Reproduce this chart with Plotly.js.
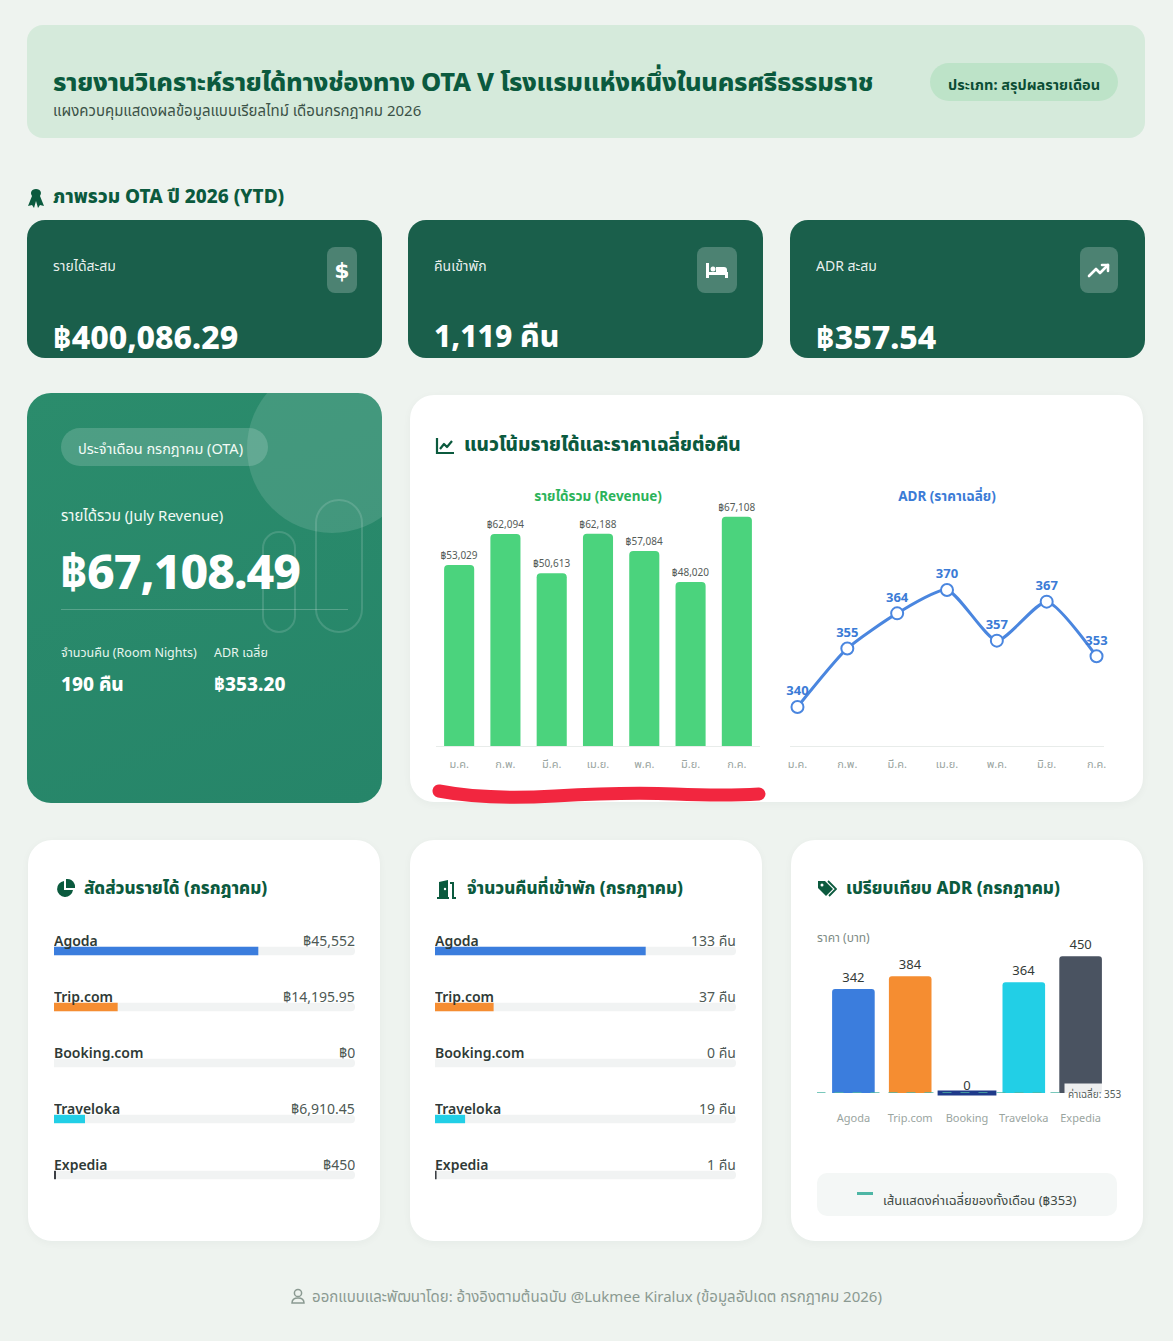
<!DOCTYPE html>
<html lang="th">
<head>
<meta charset="utf-8">
<title>รายงานวิเคราะห์รายได้ OTA</title>
<script src="https://cdn.plot.ly/plotly-3.0.1.min.js"></script>
<style>
  * { box-sizing: border-box; }
  body {
    margin: 0;
    width: 1173px;
    height: 1341px;
    background: #eef3ef;
    font-family: "Noto Sans", "Noto Sans Thai", sans-serif;
    position: relative;
    overflow: hidden;
    color: #0b5a3e;
  }
  .abs { position: absolute; }
  .card { position: absolute; border-radius: 22px; overflow: hidden; }
  .white { background: #ffffff; box-shadow: 0 2px 8px rgba(20, 60, 40, 0.04); }
  .kpi { background: #1a5f4b; top: 220px; width: 355px; height: 138px; border-radius: 18px; }
  .kpi .lbl { position: absolute; left: 26px; top: 36px; font-size: 14px; color: rgba(255,255,255,0.92); }
  .kpi .val { position: absolute; left: 26px; top: 95px; font-size: 32px; font-weight: 800; color: #fff; }
  .kpi .ico { position: absolute; top: 27px; height: 46px; border-radius: 8px; background: rgba(255,255,255,0.22);
              display: flex; align-items: center; justify-content: center; }
  .ctitle { position: absolute; font-size: 17px; font-weight: 800; color: #0b5a3e; display: flex; align-items: center; gap: 9px; }
  .plot { position: absolute; }
</style>
</head>
<body>

<!-- header -->
<div class="card" style="left:27px; top:25px; width:1118px; height:113px; background:#d5eadb; border-radius:16px;">
  <div class="abs" style="left:26px; top:39px; font-size:25.5px; font-weight:800; color:#0b5a3e; letter-spacing:-0.3px;">รายงานวิเคราะห์รายได้ทางช่องทาง OTA V โรงแรมแห่งหนึ่งในนครศรีธรรมราช</div>
  <div class="abs" style="left:26px; top:75px; font-size:15px; color:#3b5247;">แผงควบคุมแสดงผลข้อมูลแบบเรียลไทม์ เดือนกรกฎาคม 2026</div>
  <div class="abs" style="left:903px; top:38px; width:188px; height:38px; border-radius:19px; background:#bde3c8; font-size:14.5px; font-weight:700; color:#0b4d35; display:flex; align-items:center; justify-content:center; padding-top:6px;">ประเภท: สรุปผลรายเดือน</div>
</div>

<!-- section title -->
<div class="ctitle" style="left:27px; top:183px; font-size:19px; gap:8px;">
  <svg width="18" height="22" viewBox="0 0 18 22"><path d="M9 2 C4 2 3 6 5 9 L1 19 L5 18 L7 21 L9 14 L11 21 L13 18 L17 19 L13 9 C15 6 14 2 9 2 Z" fill="#0b5a3e"/></svg>
  <span>ภาพรวม OTA ปี 2026 (YTD)</span>
</div>

<!-- KPI cards -->
<div class="card kpi" style="left:27px;">
  <div class="lbl">รายได้สะสม</div>
  <div class="val" id="kpiRevenue"></div>
  <div class="ico" style="left:300px; width:30px;">
    <svg width="14" height="24" viewBox="0 0 14 24"><text x="7" y="20" text-anchor="middle" font-size="22" font-weight="800" fill="#fff" font-family="DejaVu Sans">$</text></svg>
  </div>
</div>
<div class="card kpi" style="left:408px;">
  <div class="lbl">คืนเข้าพัก</div>
  <div class="val" id="kpiNights" style="font-size:30px;"></div>
  <div class="ico" style="left:289px; width:40px;">
    <svg width="24" height="18" viewBox="0 0 24 18"><rect x="1" y="2" width="3" height="15" fill="#fff"/><rect x="1" y="11" width="22" height="3" fill="#fff"/><rect x="20" y="11" width="3" height="6" fill="#fff"/><circle cx="8" cy="8" r="2.5" fill="#fff"/><path d="M11 6 H19 Q22 6 22 9 V11 H11 Z" fill="#fff"/></svg>
  </div>
</div>
<div class="card kpi" style="left:790px;">
  <div class="lbl">ADR สะสม</div>
  <div class="val" id="kpiAdr"></div>
  <div class="ico" style="left:290px; width:38px;">
    <svg width="24" height="16" viewBox="0 0 24 16"><path d="M2 14 L9 7 L13 11 L21 3" stroke="#fff" stroke-width="2.6" fill="none" stroke-linecap="round" stroke-linejoin="round"/><path d="M15 3 H21 V9" stroke="#fff" stroke-width="2.6" fill="none" stroke-linecap="round" stroke-linejoin="round"/></svg>
  </div>
</div>

<!-- July card -->
<div class="card" style="left:27px; top:393px; width:355px; height:410px; border-radius:24px; background:linear-gradient(160deg,#2b8c6c 0%,#268569 100%);">
  <div class="abs" style="left:220px; top:-30px; width:170px; height:170px; border-radius:50%; background:rgba(255,255,255,0.12);"></div>
  <div class="abs" style="left:235px; top:138px; width:34px; height:102px; border-radius:17px; border:2px solid rgba(255,255,255,0.14);"></div>
  <div class="abs" style="left:288px; top:106px; width:48px; height:134px; border-radius:24px; border:2px solid rgba(255,255,255,0.14);"></div>
  <div class="abs" style="left:34px; top:35px; width:207px; height:38px; border-radius:19px; background:rgba(255,255,255,0.17); color:#f3fbf6; font-size:14.5px; display:flex; align-items:center; padding-left:17px; padding-top:4px;">ประจำเดือน กรกฎาคม (OTA)</div>
  <div class="abs" style="left:34px; top:112px; font-size:15px; color:#f3fbf6;">รายได้รวม (July Revenue)</div>
  <div class="abs" id="julyRevenue" style="left:33px; top:145px; font-size:48px; font-weight:800; color:#fff; letter-spacing:-1px;"></div>
  <div class="abs" style="left:34px; top:216px; width:287px; height:1px; background:rgba(255,255,255,0.22);"></div>
  <div class="abs" style="left:34px; top:251px; font-size:12.5px; color:#e7f5ee;">จำนวนคืน (Room Nights)</div>
  <div class="abs" style="left:187px; top:251px; font-size:12.5px; color:#e7f5ee;">ADR เฉลี่ย</div>
  <div class="abs" id="julyNights" style="left:34px; top:278px; font-size:19px; font-weight:800; color:#fff;"></div>
  <div class="abs" id="julyAdr" style="left:187px; top:278px; font-size:19px; font-weight:800; color:#fff;"></div>
</div>

<!-- trend card -->
<div class="card white" style="left:410px; top:395px; width:733px; height:407px; border-radius:24px;"></div>
<div class="ctitle" style="left:435px; top:431px; font-size:19px;">
  <svg width="20" height="18" viewBox="0 0 20 18"><path d="M2 1 V16 H19" stroke="#0b5a3e" stroke-width="2.2" fill="none"/><path d="M5 12 L9 7 L12 10 L17 4" stroke="#0b5a3e" stroke-width="2.2" fill="none" stroke-linejoin="round"/></svg>
  <span>แนวโน้มรายได้และราคาเฉลี่ยต่อคืน</span>
</div>
<div class="plot" id="revChart" style="left:425px; top:480px; width:350px; height:300px;"></div>
<div class="plot" id="adrTrend" style="left:778px; top:480px; width:340px; height:300px;"></div>
<svg class="abs" style="left:425px; top:778px;" width="350" height="30" viewBox="0 0 350 30">
  <path d="M14 13 Q 60 22 130 18 T 250 16 T 334 16" stroke="#f2263f" stroke-width="13" fill="none" stroke-linecap="round"/>
</svg>

<!-- bottom cards -->
<div class="card white" style="left:28px; top:840px; width:352px; height:401px; border-radius:24px;"></div>
<div class="card white" style="left:410px; top:840px; width:352px; height:401px; border-radius:24px;"></div>
<div class="card white" style="left:791px; top:840px; width:352px; height:401px; border-radius:24px;"></div>

<div class="ctitle" style="left:55px; top:876px;">
  <svg width="20" height="20" viewBox="0 0 20 20"><path d="M9 2 A8 8 0 1 0 18 11 H9 Z" fill="#0b5a3e"/><path d="M11 0 A8 8 0 0 1 20 9 H11 Z" fill="#0b5a3e"/></svg>
  <span>สัดส่วนรายได้ (กรกฎาคม)</span>
</div>
<div class="ctitle" style="left:436px; top:876px;">
  <svg width="22" height="20" viewBox="0 0 22 20"><path d="M3 19 V3 L12 1 V19 Z" fill="#0b5a3e"/><circle cx="9" cy="10" r="1.2" fill="#fff"/><path d="M14 4 H17 V19 H20" stroke="#0b5a3e" stroke-width="2" fill="none"/><path d="M1 19 H13" stroke="#0b5a3e" stroke-width="2"/></svg>
  <span>จำนวนคืนที่เข้าพัก (กรกฎาคม)</span>
</div>
<div class="ctitle" style="left:817px; top:876px;">
  <svg width="20" height="18" viewBox="0 0 20 18"><path d="M1 1 H8 L16 9 L9 16 L1 8 Z" fill="#0b5a3e"/><circle cx="5" cy="5" r="1.5" fill="#fff"/><path d="M11 1 L19 9 L12 16" stroke="#0b5a3e" stroke-width="1.8" fill="none"/></svg>
  <span>เปรียบเทียบ ADR (กรกฎาคม)</span>
</div>

<div class="plot" id="shareRevenue" style="left:54px; top:923px; width:301px; height:280px;"></div>
<div class="plot" id="shareNights" style="left:435px; top:923px; width:301px; height:280px;"></div>

<div class="abs" style="left:817px; top:929px; font-size:12px; color:#7d8a84;">ราคา (บาท)</div>
<div class="plot" id="adrCompare" style="left:817px; top:921px; width:310px; height:207px;"></div>
<div class="abs" style="left:817px; top:1173px; width:300px; height:43px; border-radius:10px; background:#f4f7f6;"></div>
<div class="abs" style="left:857px; top:1192px; width:16px; height:3px; background:#4db6a5;"></div>
<div class="abs" id="avgLegend" style="left:883px; top:1191px; font-size:13px; color:#3f4a45;"></div>

<!-- footer -->
<div class="abs" style="left:0; top:1286px; width:1173px; text-align:center; font-size:15px; color:#8b9a92;">
  <svg width="14" height="16" viewBox="0 0 14 16" style="vertical-align:-2px; margin-right:7px;"><circle cx="7" cy="5" r="3.6" stroke="#8b9a92" stroke-width="1.5" fill="none"/><path d="M1 15 Q1 10 7 10 Q13 10 13 15 Z" stroke="#8b9a92" stroke-width="1.5" fill="none"/></svg>ออกแบบและพัฒนาโดย: อ้างอิงตามต้นฉบับ @Lukmee Kiralux (ข้อมูลอัปเดต กรกฎาคม 2026)
</div>

<script>
// ---- data ----
const months = ["ม.ค.", "ก.พ.", "มี.ค.", "เม.ย.", "พ.ค.", "มิ.ย.", "ก.ค."];
const monthlyRevenue = [53029, 62094, 50613, 62188, 57084, 48020, 67108];
const monthlyAdr = [340, 355, 364, 370, 357, 367, 353];

const channels = ["Agoda", "Trip.com", "Booking.com", "Traveloka", "Expedia"];
const channelShort = ["Agoda", "Trip.com", "Booking", "Traveloka", "Expedia"];
const channelColors = ["#3b7ddd", "#f58d31", "#1e3a8a", "#22cfe6", "#4a5361"];
const julyRevenueByChannel = [45552, 14195.95, 0, 6910.45, 450];
const julyNightsByChannel = [133, 37, 0, 19, 1];
const julyAdrByChannel = [342, 384, 0, 364, 450];

const ytdRevenue = 400086.29;
const ytdNights = 1119;
const ytdAdr = 357.54;
const julyRevenue = 67108.49;
const julyNights = 190;
const julyAdr = 353.20;
const avgAdr = 353;

// ---- text fields ----
const baht = (v, d) => "฿" + v.toLocaleString("en-US", { minimumFractionDigits: d, maximumFractionDigits: d });
document.getElementById("kpiRevenue").textContent = baht(ytdRevenue, 2);
document.getElementById("kpiNights").textContent = ytdNights.toLocaleString("en-US") + " คืน";
document.getElementById("kpiAdr").textContent = baht(ytdAdr, 2);
document.getElementById("julyRevenue").textContent = baht(julyRevenue, 2);
document.getElementById("julyNights").textContent = julyNights + " คืน";
document.getElementById("julyAdr").textContent = baht(julyAdr, 2);
document.getElementById("avgLegend").textContent = "เส้นแสดงค่าเฉลี่ยของทั้งเดือน (฿" + avgAdr + ")";

const FONT = '"Noto Sans", "Noto Sans Thai", sans-serif';
const config = { displayModeBar: false, staticPlot: true };

// ---- revenue bars ----
Plotly.newPlot("revChart", [{
  type: "bar",
  x: months,
  y: monthlyRevenue,
  marker: { color: "#4bd37d", cornerradius: 4 },
  text: monthlyRevenue.map(v => baht(v, 0)),
  textposition: "outside",
  constraintext: "none",
  cliponaxis: false,
  textfont: { size: 10, color: "#555c59", family: FONT },
  hoverinfo: "skip"
}], {
  width: 350, height: 300,
  margin: { l: 11, r: 15, t: 28, b: 34 },
  paper_bgcolor: "rgba(0,0,0,0)", plot_bgcolor: "rgba(0,0,0,0)",
  bargap: 0.35,
  showlegend: false,
  font: { family: FONT },
  title: { text: "<b>รายได้รวม (Revenue)</b>", font: { size: 13.5, color: "#2bb35a", family: FONT }, x: 0.5, xref: "paper", y: 0.947, yanchor: "middle" },
  xaxis: { showline: true, linecolor: "#e8ecea", linewidth: 1, ticks: "", ticklabelstandoff: 8, tickfont: { size: 11, color: "#9aa59f" }, fixedrange: true },
  yaxis: { range: [0, 69700], showgrid: false, zeroline: false, showticklabels: false, fixedrange: true }
}, config);

// ---- ADR trend line ----
Plotly.newPlot("adrTrend", [{
  type: "scatter",
  mode: "lines+markers+text",
  x: months,
  y: monthlyAdr,
  line: { color: "#4a86df", width: 3, shape: "spline", smoothing: 0.6 },
  marker: { size: 12, color: "#ffffff", line: { color: "#4a86df", width: 2 } },
  text: monthlyAdr.map(String),
  textposition: "top center",
  textfont: { size: 13, color: "#3b7bd6", family: FONT, weight: 700 },
  cliponaxis: false,
  hoverinfo: "skip"
}], {
  width: 340, height: 300,
  margin: { l: 11.5, r: 13.5, t: 28, b: 34 },
  paper_bgcolor: "rgba(0,0,0,0)", plot_bgcolor: "rgba(0,0,0,0)",
  showlegend: false,
  font: { family: FONT },
  title: { text: "<b>ADR (ราคาเฉลี่ย)</b>", font: { size: 13.5, color: "#3b7bd6", family: FONT }, x: 0.5, xref: "paper", y: 0.947, yanchor: "middle" },
  xaxis: { range: [-0.15, 6.15], showline: true, linecolor: "#e8ecea", linewidth: 1, ticks: "", ticklabelstandoff: 8, tickfont: { size: 11, color: "#9aa59f" }, showgrid: false, fixedrange: true },
  yaxis: { range: [330, 391], showgrid: false, zeroline: false, showticklabels: false, fixedrange: true }
}, config);

// ---- channel share bars (track + value) ----
function shareChart(id, values, total, labels) {
  const track = {
    type: "bar", orientation: "h",
    y: channels, x: channels.map(() => total),
    width: 0.15,
    marker: { color: "#f1f3f3", cornerradius: 4 },
    hoverinfo: "skip"
  };
  const bars = {
    type: "bar", orientation: "h",
    y: channels, x: values,
    width: 0.15,
    marker: { color: channelColors.map((c, i) => i === 4 ? "#3b3f44" : c), cornerradius: 4 },
    hoverinfo: "skip"
  };
  const annotations = [];
  channels.forEach((c, i) => {
    annotations.push({ xref: "paper", x: 0, y: c, yshift: 11, xshift: -2, xanchor: "left", yanchor: "middle", showarrow: false,
      text: c, font: { size: 14, color: "#2f3a36", family: FONT, weight: 600 } });
    annotations.push({ xref: "paper", x: 1, y: c, yshift: 11, xshift: 2, xanchor: "right", yanchor: "middle", showarrow: false,
      text: labels[i], font: { size: 14, color: "#4e5955", family: FONT } });
  });
  Plotly.newPlot(id, [track, bars], {
    width: 301, height: 280,
    margin: { l: 0, r: 0, t: 0, b: 0 },
    paper_bgcolor: "rgba(0,0,0,0)", plot_bgcolor: "rgba(0,0,0,0)",
    barmode: "overlay",
    showlegend: false,
    font: { family: FONT },
    xaxis: { range: [0, total], visible: false, fixedrange: true },
    yaxis: { autorange: "reversed", visible: false, fixedrange: true },
    annotations: annotations
  }, config);
}
const revTotal = julyRevenueByChannel.reduce((a, b) => a + b, 0);
const nightsTotal = julyNightsByChannel.reduce((a, b) => a + b, 0);
shareChart("shareRevenue", julyRevenueByChannel, revTotal,
  julyRevenueByChannel.map(v => baht(v, Number.isInteger(v) ? 0 : 2)));
shareChart("shareNights", julyNightsByChannel, nightsTotal,
  julyNightsByChannel.map(v => v + " คืน"));

// ---- ADR comparison ----
const zeroIdx = julyAdrByChannel.map((v, i) => v === 0 ? i : -1).filter(i => i >= 0);
Plotly.newPlot("adrCompare", [{
  type: "bar",
  x: channelShort,
  y: julyAdrByChannel,
  marker: { color: channelColors, cornerradius: 3 },
  text: julyAdrByChannel.map(v => v === 0 ? "" : String(v)),
  textposition: "outside",
  constraintext: "none",
  cliponaxis: false,
  textfont: { size: 13, color: "#333a37", family: FONT },
  hoverinfo: "skip"
}, {
  // zero-value channel shown as a flat navy mark on the baseline
  type: "scatter", mode: "markers",
  x: zeroIdx.map(i => channelShort[i]),
  y: zeroIdx.map(i => julyAdrByChannel[i]),
  marker: { symbol: "line-ew", size: 42, line: { color: "#1e3a8a", width: 5 } },
  cliponaxis: false,
  hoverinfo: "skip"
}, {
  type: "scatter", mode: "text",
  x: zeroIdx.map(i => channelShort[i]),
  y: zeroIdx.map(i => julyAdrByChannel[i]),
  text: zeroIdx.map(i => String(julyAdrByChannel[i])),
  textposition: "top center",
  textfont: { size: 13, color: "#333a37", family: FONT },
  cliponaxis: false,
  hoverinfo: "skip"
}], {
  width: 310, height: 207,
  margin: { l: 7.5, r: 17.5, t: 20, b: 35 },
  paper_bgcolor: "rgba(0,0,0,0)", plot_bgcolor: "rgba(0,0,0,0)",
  bargap: 0.25,
  showlegend: false,
  font: { family: FONT },
  xaxis: { ticks: "", showline: false, ticklabelstandoff: 17, tickfont: { size: 11, color: "#9aa59f" }, fixedrange: true },
  yaxis: { range: [0, 500], showgrid: false, zeroline: false, showticklabels: false, fixedrange: true },
  // average line: the reference draws it along the baseline
  shapes: [{ type: "line", xref: "paper", x0: -0.03, x1: 0.84, yref: "y", y0: 0, y1: 0,
    line: { color: "#4db6a5", width: 1.5, dash: "dash" } }],
  annotations: [{ xref: "paper", x: 0.84, y: 0, xanchor: "left", yanchor: "middle", yshift: -1, showarrow: false,
    text: "ค่าเฉลี่ย: " + avgAdr, bgcolor: "rgba(255,255,255,0.9)", borderpad: 3,
    font: { size: 10, color: "#555e5a", family: FONT } }]
}, config);
</script>
</body>
</html>
